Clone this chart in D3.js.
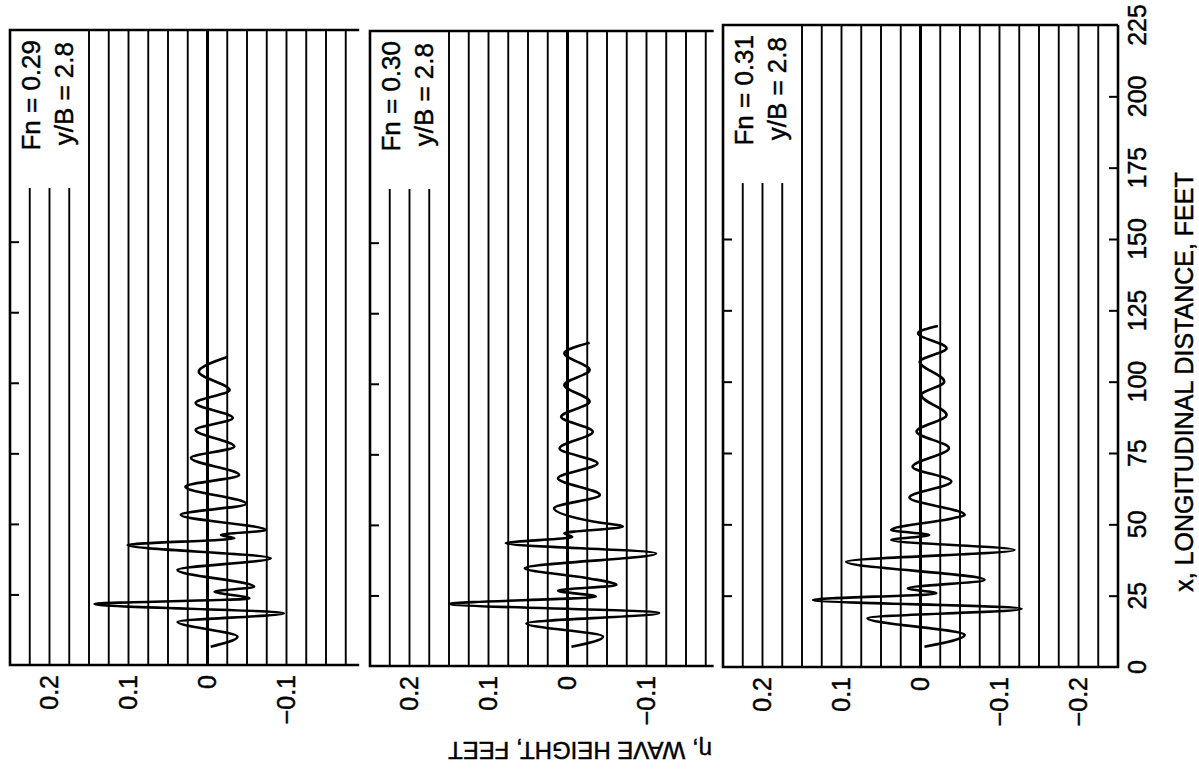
<!DOCTYPE html>
<html>
<head>
<meta charset="utf-8">
<script src="https://cdn.jsdelivr.net/npm/d3@7"></script>
<style>
  html, body { margin: 0; padding: 0; background: #fff; }
  svg { display: block; font-family: "Liberation Sans", Arial, Helvetica, sans-serif; }
  svg text { fill: #000; stroke: #000; stroke-width: 0.45px; }
</style>
</head>
<body>
<svg id="chart" width="1199" height="770"></svg>
<script>
// Froude numbers of the three runs, and the common lateral probe offset
const froudeNumbers = ["0.29", "0.30", "0.31"];
const offsetRatio = "2.8";

// Axis ticks
const distanceTicks = [0, 25, 50, 75, 100, 125, 150, 175, 200, 225];
const heightTicksShort = [0.2, 0.1, 0, -0.1];
const heightTicksFull = [0.2, 0.1, 0, -0.1, -0.2];

// Wave cuts: [x, longitudinal distance (ft), eta, wave height (ft)]
const waveFn029 = [
  [6.5, -0.004], [10.0, -0.038], [15.3, 0.038], [18.3, -0.097], [21.6, 0.143],
  [23.6, -0.053], [26.0, -0.009], [27.7, -0.059], [33.7, 0.038], [37.8, -0.080],
  [42.5, 0.101], [44.9, -0.034], [46.1, -0.017], [47.8, -0.074], [53.2, 0.034],
  [57.1, -0.049], [63.2, 0.028], [67.3, -0.040], [73.4, 0.021], [77.4, -0.034],
  [83.3, 0.015], [87.5, -0.032], [92.8, 0.015], [97.4, -0.028], [103.9, 0.011],
  [109.1, -0.025]
];
const waveFn030 = [
  [6.8, -0.005], [10.4, -0.045], [15.1, 0.052], [18.8, -0.116], [22.0, 0.149],
  [24.6, -0.036], [26.7, 0.012], [28.7, -0.062], [31.2, -0.024], [34.6, 0.054],
  [39.9, -0.112], [43.5, 0.078], [45.7, -0.006], [47.0, 0.004], [49.4, -0.070],
  [51.1, -0.034], [55.9, 0.017], [60.6, -0.041], [66.5, 0.012], [71.8, -0.038],
  [77.1, 0.010], [83.0, -0.032], [88.3, 0.008], [93.7, -0.028], [99.6, 0.004],
  [104.9, -0.028], [110.8, 0.004], [114.5, -0.028]
];
const waveFn031 = [
  [7.1, -0.005], [11.2, -0.056], [17.1, 0.067], [20.4, -0.128], [23.5, 0.136],
  [25.8, -0.020], [27.6, 0.016], [30.5, -0.081], [36.9, 0.094], [41.0, -0.119],
  [44.5, 0.037], [46.3, -0.011], [48.0, 0.037], [52.1, -0.041], [53.3, -0.056],
  [59.4, 0.014], [65.0, -0.039], [70.2, 0.010], [76.7, -0.036], [82.5, 0.005],
  [88.3, -0.033], [95.3, -0.001], [100.0, -0.030], [107.0, 0.001], [111.7, -0.033],
  [117.0, 0.003], [119.5, -0.022]
];

const svg = d3.select("#chart");
const TICK_FONT = 25;
const LEGEND_FONT = 26;
const PANEL_W = 395;          // pixel width of the full +/-0.25 ft range
const fmtHeight = d => d === 0 ? "0" : (d < 0 ? "\u2212" : "") + Math.abs(d);

// Three stacked strips; the first two are cut off by the one drawn after them
const panels = [
  { left: 10,  top: 30, bottom: 665, etaEnd: -0.192, ticks: heightTicksShort, wave: waveFn029, fn: froudeNumbers[0], closed: false },
  { left: 370, top: 31, bottom: 666, etaEnd: -0.185, ticks: heightTicksShort, wave: waveFn030, fn: froudeNumbers[1], closed: false },
  { left: 723, top: 25, bottom: 667, etaEnd: -0.25,  ticks: heightTicksFull,  wave: waveFn031, fn: froudeNumbers[2], closed: true }
];

panels.forEach(p => {
  const x = d3.scaleLinear().domain([0.25, -0.25]).range([p.left, p.left + PANEL_W]);
  const y = d3.scaleLinear().domain([0, 225]).range([p.bottom, p.top]);
  const xEnd = x(p.etaEnd);
  const g = svg.append("g");

  // constant wave-height grid every 0.025 ft
  const grid = d3.range(-9, 10).map(k => +(k * 0.025).toFixed(3)).filter(v => v > p.etaEnd + 1e-6);
  g.selectAll("line.grid").data(grid).join("line")
    .attr("class", "grid")
    .attr("x1", d => x(d)).attr("x2", d => x(d))
    .attr("y1", p.top).attr("y2", p.bottom)
    .attr("stroke", "#000")
    .attr("stroke-width", d => d === 0 ? 3 : 1.9);

  // distance ticks, pointing inward from the left edge
  g.append("g")
    .attr("transform", `translate(${p.left},0)`)
    .call(d3.axisRight(y).tickValues(distanceTicks.slice(1, -1)).tickSizeInner(9).tickSizeOuter(0).tickFormat(""))
    .call(a => a.select(".domain").remove())
    .call(a => a.selectAll("line").attr("stroke", "#000").attr("stroke-width", 2));

  // legend block
  g.append("rect")
    .attr("x", p.left + 1).attr("y", p.top + 1)
    .attr("width", 70).attr("height", 157)
    .attr("fill", "#fff");
  g.append("text")
    .attr("transform", `translate(${p.left + 30},${p.top + 10}) rotate(-90)`)
    .attr("text-anchor", "end").attr("font-size", LEGEND_FONT)
    .text(`Fn = ${p.fn}`);
  g.append("text")
    .attr("transform", `translate(${p.left + 63},${p.top + 12}) rotate(-90)`)
    .attr("text-anchor", "end").attr("font-size", LEGEND_FONT)
    .text(`y/B = ${offsetRatio}`);

  // frame
  let frame = `M${xEnd},${p.top}H${p.left}V${p.bottom}H${xEnd}`;
  if (p.closed) frame += `V${p.top}`;
  g.append("path").attr("d", frame)
    .attr("fill", "none").attr("stroke", "#000").attr("stroke-width", 2.6);

  // wave-height tick labels
  g.selectAll("text.eta").data(p.ticks).join("text")
    .attr("class", "eta")
    .attr("transform", d => `translate(${x(d)},${p.bottom + 10}) rotate(-90)`)
    .attr("text-anchor", "end").attr("dy", "0.35em")
    .attr("font-size", TICK_FONT)
    .text(fmtHeight);

  // right-hand distance axis on the last strip
  if (p.closed) {
    const right = p.left + PANEL_W;
    g.append("g")
      .attr("transform", `translate(${right},0)`)
      .call(d3.axisLeft(y).tickValues(distanceTicks.slice(1, -1)).tickSizeInner(9).tickSizeOuter(0).tickFormat(""))
      .call(a => a.select(".domain").remove())
      .call(a => a.selectAll("line").attr("stroke", "#000").attr("stroke-width", 2));
    g.selectAll("text.dist").data(distanceTicks).join("text")
      .attr("class", "dist")
      .attr("transform", d => `translate(${right + 19},${y(d)}) rotate(-90)`)
      .attr("text-anchor", "middle").attr("dy", "0.35em")
      .attr("font-size", TICK_FONT)
      .text(d => d);
  }

  // measured wave profile
  const line = d3.line()
    .x(d => x(d[1]))
    .y(d => y(d[0]))
    .curve(d3.curveMonotoneY);
  g.append("path").datum(p.wave)
    .attr("d", line)
    .attr("fill", "none").attr("stroke", "#000")
    .attr("stroke-width", 2.6).attr("stroke-linejoin", "round");
});

// axis titles
svg.append("text")
  .attr("transform", "translate(1184,382) rotate(-90)")
  .attr("text-anchor", "middle").attr("dy", "0.35em")
  .attr("font-size", 25)
  .text("x, LONGITUDINAL DISTANCE, FEET");
svg.append("text")
  .attr("transform", "translate(580,750) rotate(180)")
  .attr("text-anchor", "middle").attr("dy", "0.35em")
  .attr("font-size", 24)
  .text("\u03B7, WAVE HEIGHT, FEET");
</script>
</body>
</html>
